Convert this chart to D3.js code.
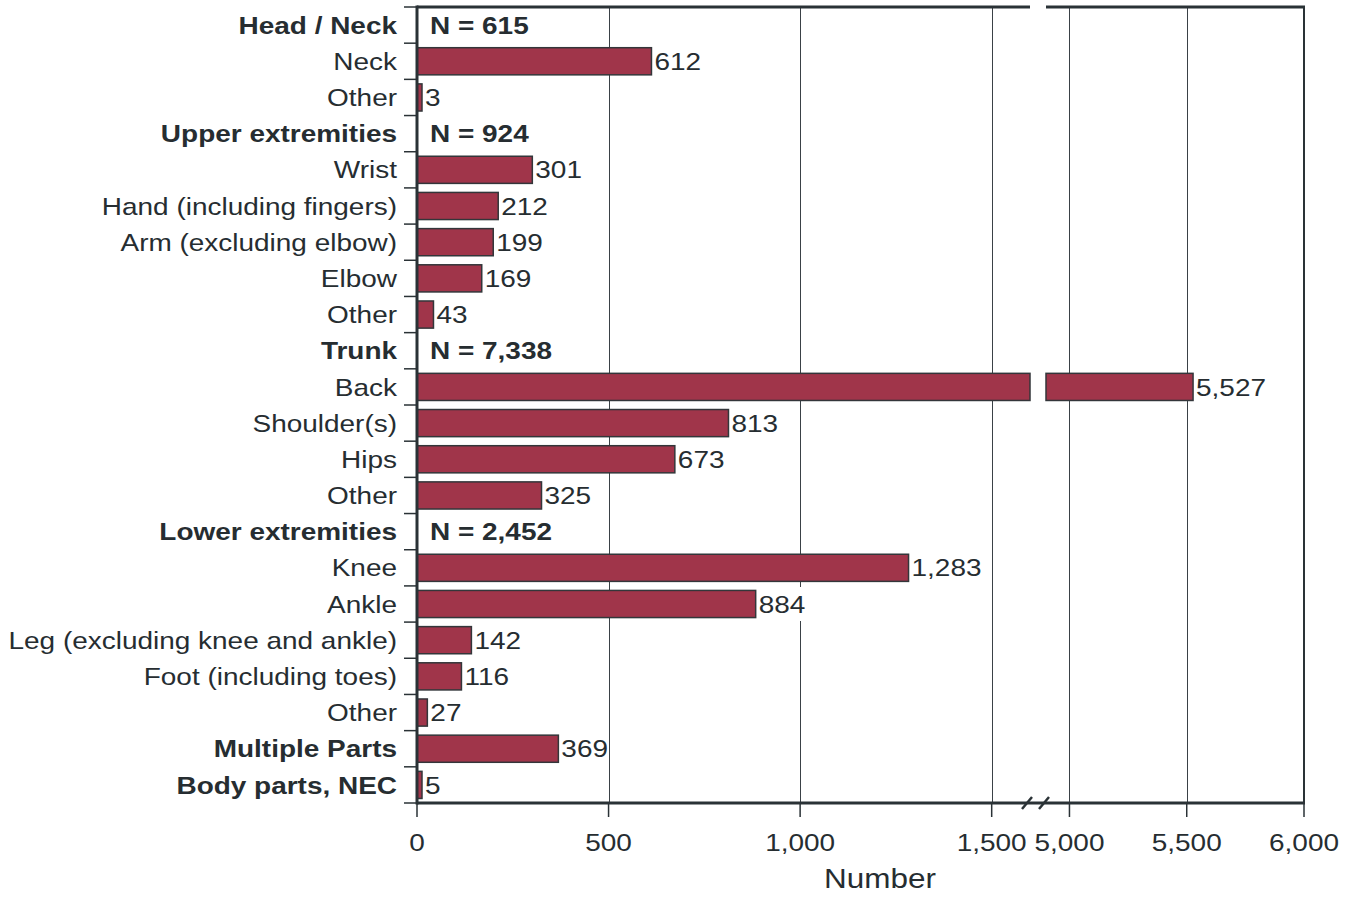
<!DOCTYPE html>
<html>
<head>
<meta charset="utf-8">
<script src="https://cdn.jsdelivr.net/npm/d3@7"></script>
<style>
  html, body { margin: 0; padding: 0; background: #ffffff; }
  svg { display: block; }
  text { font-family: "Liberation Sans", Arial, Helvetica, sans-serif; fill: #262d31; }
</style>
</head>
<body>
<svg id="chart" width="1357" height="899"></svg>
<script>
// ---------- data ----------
const categories = [
  "Head / Neck", "Neck", "Other",
  "Upper extremities", "Wrist", "Hand (including fingers)", "Arm (excluding elbow)", "Elbow", "Other",
  "Trunk", "Back", "Shoulder(s)", "Hips", "Other",
  "Lower extremities", "Knee", "Ankle", "Leg (excluding knee and ankle)", "Foot (including toes)", "Other",
  "Multiple Parts", "Body parts, NEC"
];
const values = [
  null, 612, 3,
  null, 301, 212, 199, 169, 43,
  null, 5527, 813, 673, 325,
  null, 1283, 884, 142, 116, 27,
  369, 5
];
const boldRows = [0, 3, 9, 14, 20, 21];
const groupTotalRows = [0, 3, 9, 14];
const groupTotals = ["N = 615", "N = 924", "N = 7,338", "N = 2,452"];
const lowDomain = [0, 1600];
const highDomain = [4900, 6000];
const lowTicks = [0, 500, 1000, 1500];
const highTicks = [5000, 5500, 6000];
const axisTitle = "Number";

(function () {
// ---------- layout ----------
const SX = 1.165; // horizontal stretch of the lettering
const pL = 417, pR = 1304, pT = 7, pB = 803;
const breakL = 1030, breakR = 1046;
const ink = "#2a3236";

const svg = d3.select("#chart");
const xLow = d3.scaleLinear().domain(lowDomain).range([pL, breakL]);
const xHigh = d3.scaleLinear().domain(highDomain).range([breakR, pR]);
const y = d3.scaleBand().domain(d3.range(categories.length)).range([pT, pB]).padding(0);
const bw = y.bandwidth();
const barH = bw * 0.75;
const fmt = d3.format(",");
const xOf = v => v <= lowDomain[1] ? xLow(v) : xHigh(v);

function txt(g, x, yy, s, opts) {
  return g.append("text")
    .attr("transform", `translate(${x},${yy}) scale(${SX},1)`)
    .attr("text-anchor", opts.anchor || "start")
    .attr("dy", "0.36em")
    .attr("font-size", opts.size || 24)
    .attr("font-weight", opts.bold ? "bold" : "normal")
    .text(s);
}

// gridlines
const grid = svg.append("g");
grid.selectAll("line.gl").data(lowTicks.filter(d => d > 0)).join("line")
  .attr("x1", d => Math.round(xLow(d)) + 0.5).attr("x2", d => Math.round(xLow(d)) + 0.5)
  .attr("y1", pT).attr("y2", pB)
  .attr("stroke", "#3a4146").attr("stroke-width", 1);
grid.selectAll("line.gh").data(highTicks.filter(d => d < highDomain[1])).join("line")
  .attr("x1", d => Math.round(xHigh(d)) + 0.5).attr("x2", d => Math.round(xHigh(d)) + 0.5)
  .attr("y1", pT).attr("y2", pB)
  .attr("stroke", "#3a4146").attr("stroke-width", 1);

// bars
const barData = values.map((v, i) => ({ v, i })).filter(d => d.v !== null);
const bars = svg.append("g");
barData.forEach(d => {
  const yc = y(d.i) + bw / 2;
  const segs = d.v > lowDomain[1]
    ? [[xLow(0), xLow(lowDomain[1])], [xHigh(highDomain[0]), xHigh(d.v)]]
    : [[xLow(0), xLow(d.v)]];
  segs.forEach(s => {
    bars.append("rect")
      .attr("x", s[0]).attr("y", yc - barH / 2)
      .attr("width", Math.max(s[1] - s[0], 5)).attr("height", barH)
      .attr("fill", "#a0354a").attr("stroke", "#33363a").attr("stroke-width", 1.5);
  });
});

// value labels with white backing
const vlab = svg.append("g");
barData.forEach(d => {
  const end = Math.max(xOf(d.v), xLow(0) + 5);
  const t = txt(vlab, end + 3, y(d.i) + bw / 2, fmt(d.v), {});
  const bb = t.node().getBBox();
  vlab.insert("rect", "text")
    .attr("x", end + 2.5).attr("y", y(d.i) + bw / 2 - 17)
    .attr("width", bb.width * SX + 1).attr("height", 34)
    .attr("fill", "#ffffff");
});
vlab.selectAll("text").raise();

// group totals
const gt = svg.append("g");
groupTotalRows.forEach((r, k) => {
  txt(gt, pL + 13, y(r) + bw / 2, groupTotals[k], { bold: true });
});

// frame: left axis, top border (broken), right border, bottom axis
const frame = svg.append("g").attr("stroke", ink).attr("fill", "none");
frame.append("line").attr("x1", pL).attr("x2", pL).attr("y1", pT - 1.5).attr("y2", pB + 1.5).attr("stroke-width", 3);
frame.append("line").attr("x1", pL).attr("x2", breakL).attr("y1", pT).attr("y2", pT).attr("stroke-width", 3);
frame.append("line").attr("x1", breakR).attr("x2", pR + 1).attr("y1", pT).attr("y2", pT).attr("stroke-width", 3);
frame.append("line").attr("x1", pR).attr("x2", pR).attr("y1", pT).attr("y2", pB).attr("stroke-width", 2);
frame.append("line").attr("x1", pL).attr("x2", pR + 1).attr("y1", pB).attr("y2", pB).attr("stroke-width", 3);
// break marks
[breakL - 3, breakL + 14].forEach(bx => {
  svg.append("line").attr("x1", bx - 5).attr("y1", pB + 6).attr("x2", bx + 5).attr("y2", pB - 6)
    .attr("stroke", ink).attr("stroke-width", 2.5);
});

// left ticks at category boundaries
const boundaries = d3.range(categories.length + 1).map(i => pT + i * bw);
svg.append("g").selectAll("line").data(boundaries).join("line")
  .attr("x1", pL - 13).attr("x2", pL).attr("y1", d => d).attr("y2", d => d)
  .attr("stroke", ink).attr("stroke-width", 1.5);

// category labels
const cl = svg.append("g");
categories.forEach((c, i) => {
  txt(cl, pL - 20, y(i) + bw / 2, c, { anchor: "end", bold: boldRows.includes(i) });
});

// bottom ticks and labels
const bt = svg.append("g");
const tickList = lowTicks.map(v => ({ v, x: xLow(v) })).concat(highTicks.map(v => ({ v, x: xHigh(v) })));
tickList.forEach(t => {
  bt.append("line").attr("x1", t.x).attr("x2", t.x).attr("y1", pB).attr("y2", pB + 14)
    .attr("stroke", ink).attr("stroke-width", 1.5);
  txt(bt, t.x, pB + 39, fmt(t.v), { anchor: "middle" });
});

// axis title
txt(svg, 880, 878, axisTitle, { anchor: "middle", size: 27 });
})();
</script>
</body>
</html>
